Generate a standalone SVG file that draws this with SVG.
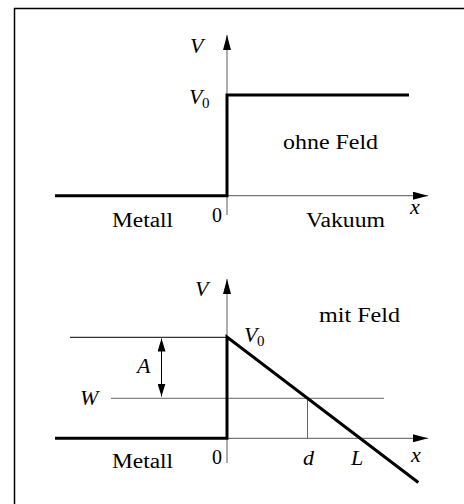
<svg xmlns="http://www.w3.org/2000/svg" width="464" height="504" viewBox="0 0 464 504">
<defs>
<marker id="ah" markerWidth="16" markerHeight="8" refX="15" refY="4" orient="auto" markerUnits="userSpaceOnUse">
<path d="M0,0 L15,4 L0,8 Z" fill="#000"/>
</marker>
<marker id="ahs" markerWidth="13" markerHeight="8" refX="13" refY="4" orient="auto-start-reverse" markerUnits="userSpaceOnUse">
<path d="M0,0 L13,4 L0,8 Z" fill="#000"/>
</marker>
<style>
.axis{stroke:#777;stroke-width:1.2;fill:none}
.thick{stroke:#000;stroke-width:3;fill:none;stroke-linejoin:miter}
.thin{stroke:#000;stroke-width:1;fill:none}
.grey{stroke:#666;stroke-width:1;fill:none}
text{font-family:"Liberation Serif","Times New Roman",serif;font-size:20px;fill:#000}
.it{font-style:italic;font-size:22px}
.sub{font-size:15px}
</style>
</defs>
<rect x="14.5" y="8.5" width="460" height="520" fill="none" stroke="#000" stroke-width="1.5"/>
<g id="top-plot">
<g id="top-connectors">
<line class="axis" x1="227" y1="215" x2="227" y2="35" marker-end="url(#ah)"/>
<line class="axis" x1="227" y1="195.7" x2="428" y2="195.7" marker-end="url(#ah)"/>
<polyline class="thick" points="55,195.7 227,195.7 227,95 409,95"/>
</g>
<g id="top-labels">
<text class="it" x="190" y="52.5">V</text>
<text class="it" x="189" y="104">V</text><text class="sub" x="202" y="108">0</text>
<text x="283" y="149" textLength="95" lengthAdjust="spacingAndGlyphs">ohne Feld</text>
<text x="112" y="226.5" textLength="61" lengthAdjust="spacingAndGlyphs">Metall</text>
<text x="212" y="221.5">0</text>
<text x="306" y="226.5" textLength="79" lengthAdjust="spacingAndGlyphs">Vakuum</text>
<text class="it" x="410" y="213.5">x</text>
</g>
</g>
<g id="bottom-plot">
<g id="bottom-connectors">
<line class="axis" x1="227" y1="463" x2="227" y2="279" marker-end="url(#ah)"/>
<line class="axis" x1="227" y1="438.3" x2="428" y2="438.3" marker-end="url(#ah)"/>
<line class="thin" x1="70" y1="337.3" x2="227" y2="337.3"/>
<line class="grey" x1="111" y1="398.3" x2="384" y2="398.3"/>
<line class="grey" x1="307.5" y1="398.3" x2="307.5" y2="438.3"/>
<line class="thin" x1="161.5" y1="338.5" x2="161.5" y2="396.5" marker-start="url(#ahs)" marker-end="url(#ahs)"/>
<polyline class="thick" points="55,438.3 227,438.3 227,337 418.3,482.5"/>
</g>
<g id="bottom-labels">
<text class="it" x="195" y="296">V</text>
<text class="it" x="244" y="342">V</text><text class="sub" x="257" y="346">0</text>
<text x="319" y="322" textLength="81" lengthAdjust="spacingAndGlyphs">mit Feld</text>
<text class="it" x="137" y="373">A</text>
<text class="it" x="80" y="405">W</text>
<text x="112" y="468" textLength="61" lengthAdjust="spacingAndGlyphs">Metall</text>
<text x="212" y="463.5">0</text>
<text class="it" x="303" y="465">d</text>
<text class="it" x="351" y="465">L</text>
<text class="it" x="411" y="462">x</text>
</g>
</g>
</svg>
